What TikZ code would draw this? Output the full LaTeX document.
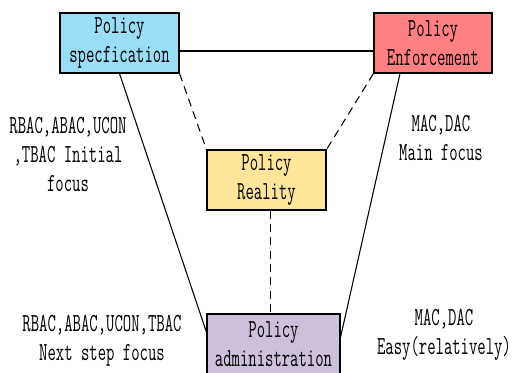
\documentclass[tikz,border=0pt]{standalone}
\usepackage{fontspec}
\setmainfont{Latin Modern Mono}[FakeStretch=0.625]
\begin{document}
\begin{tikzpicture}[x=0.75pt,y=-0.75pt,
  box/.style={draw=black,line width=0.9pt,minimum height=45pt,inner sep=0pt,
    align=center,font=\fontsize{19.5}{21.75}\selectfont},
  note/.style={align=center,inner sep=0pt,font=\fontsize{19.5}{21.75}\selectfont},
  link/.style={line width=0.8pt},
  weak/.style={line width=0.8pt,dash pattern=on 6pt off 4pt}]
\useasboundingbox (0,0) rectangle (514,373);
\node[box,fill={rgb,255:red,153;green,221;blue,247},minimum width=89.25pt] (spec) at (119.5,43) {Policy\\specfication};
\node[box,fill={rgb,255:red,255;green,128;blue,128},minimum width=88.5pt] (enf) at (433,43) {Policy\\Enforcement};
\node[box,fill={rgb,255:red,255;green,229;blue,153},minimum width=89.25pt] (real) at (266.5,180) {Policy\\Reality};
\node[box,fill={rgb,255:red,204;green,192;blue,218},minimum width=99.75pt] (adm) at (273.5,344) {Policy\\administration};
% solid edges of the triangle
\draw[link] ([yshift=-6pt]spec.east) -- ([yshift=-6pt]enf.west);
\draw[link] (spec.south) -- ([yshift=9pt]adm.west);
\draw[link] ([xshift=-24.75pt]enf.south) -- ([yshift=5.25pt]adm.east);
% dashed links to the reality box
\draw[weak] (spec.south east) -- (real.north west);
\draw[weak] (enf.south west) -- (real.north east);
\draw[weak] ([xshift=3pt]real.south) -- ([xshift=3pt]real.south |- adm.north);
% annotations
\node[note] (n1) at (68,154) {RBAC,ABAC,UCON\\,TBAC Initial\\focus};
\node[note] (n2) at (441,137.5) {MAC,DAC\\Main focus};
\node[note] (n3) at (102,340.5) {RBAC,ABAC,UCON,TBAC\\Next step focus};
\node[note] (n4) at (444,334.5) {MAC,DAC\\Easy(relatively)};
\end{tikzpicture}
\end{document}
